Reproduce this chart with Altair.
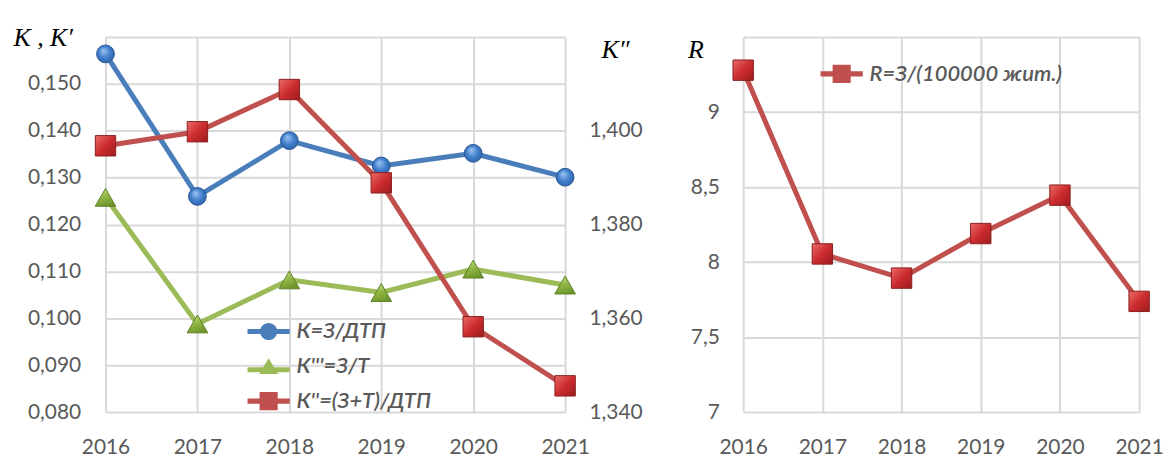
import altair as alt
import pandas as pd

# ---------------- data ----------------
years = [2016, 2017, 2018, 2019, 2020, 2021]
k_vals = [0.1564, 0.1260, 0.1379, 0.1325, 0.1352, 0.1301]      # К=З/ДТП (left axis)
k3_vals = [0.1258, 0.0988, 0.1082, 0.1055, 0.1105, 0.1071]     # К'''=З/Т (left axis)
k2_vals = [1.3968, 1.3998, 1.4088, 1.3889, 1.3582, 1.3456]     # К''=(З+Т)/ДТП (right axis)
r_vals = [9.279, 8.054, 7.893, 8.190, 8.446, 7.738]            # R=З/(100000 жит.)

left_names = ["К=З/ДТП", "К'''=З/Т", "К''=(З+Т)/ДТП"]
right_names = ["R=З/(100000 жит.)"]

left_ticks = [0.08, 0.09, 0.10, 0.11, 0.12, 0.13, 0.14, 0.15, 0.16]
k2_ticks = [1.34, 1.36, 1.38, 1.40]
r_ticks = [7, 7.5, 8, 8.5, 9, 9.5]

# ---------------- styling ----------------
BLUE_LINE, BLUE_EDGE = "#4A7EBB", "#2B5A94"
GREEN_LINE, GREEN_EDGE = "#9BBB59", "#5F7F28"
RED_LINE, RED_EDGE = "#C0504D", "#8A1F1F"
LABEL_COLOR = "#595959"
GRID_COLOR = "#D9D9D9"
FONT = "Lato"
TITLE_FONT = "Liberation Serif"

BLUE_FILL = {"gradient": "radial", "x1": 0.38, "y1": 0.3, "r1": 0.0, "x2": 0.5, "y2": 0.5, "r2": 0.62,
             "stops": [{"offset": 0, "color": "#9CC4F2"}, {"offset": 0.55, "color": "#3F7DCB"},
                       {"offset": 1, "color": "#2A5C9E"}]}
GREEN_FILL = {"gradient": "linear", "x1": 0.3, "y1": 0.0, "x2": 0.7, "y2": 1.0,
              "stops": [{"offset": 0, "color": "#BCD97A"}, {"offset": 0.5, "color": "#8DB442"},
                        {"offset": 1, "color": "#6A9128"}]}
RED_FILL = {"gradient": "linear", "x1": 0.0, "y1": 0.0, "x2": 1.0, "y2": 1.0,
            "stops": [{"offset": 0, "color": "#EC6C69"}, {"offset": 0.5, "color": "#CC2C2F"},
                      {"offset": 1, "color": "#9C1C1E"}]}

# legend symbols: line + marker (custom paths, unit box -1..1)
P_CIRCLE = "M-2.45,-0.3H2.45V0.3H-2.45Z M1,0A1,1 0 1,1 -1,0A1,1 0 1,1 1,0Z"
P_TRI = "M-2.45,0.1H2.45V0.7H-2.45Z M0,-0.95L1.1,0.9L-1.1,0.9Z"
P_SQ = "M-2.45,-0.3H2.45V0.3H-2.45Z M-1.05,-1.05H1.05V1.05H-1.05Z"

df_left = pd.DataFrame({"year": years, "k": k_vals, "k3": k3_vals, "k2": k2_vals})
df_right = pd.DataFrame({"year": years, "r": r_vals})

W_L, W_R, H = 462, 398, 377


def x_enc():
    return alt.X(
        "year:Q",
        scale=alt.Scale(domain=[2016, 2021], nice=False, zero=False),
        axis=alt.Axis(values=years, format="d", labelFlush=False, grid=True,
                      labelPadding=25, labelBaseline="top"),
        title=None,
    )


left_axis = alt.Axis(
    values=left_ticks,
    labelExpr="datum.value > 0.1595 ? '' : replace(format(datum.value, '.3f'), '.', ',')",
    grid=True, labelPadding=25,
    title="K , K′", titleAngle=0, titleX=-93, titleY=9, titleAlign="left",
    titleBaseline="alphabetic", titleFont=TITLE_FONT, titleFontStyle="italic",
    titleFontSize=26, titleFontWeight="normal", titleColor="black",
)


def y_left(field):
    return alt.Y(f"{field}:Q", scale=alt.Scale(domain=[0.08, 0.16], nice=False, zero=False),
                 axis=left_axis)


y_k2 = alt.Y(
    "k2:Q", scale=alt.Scale(domain=[1.34, 1.42], nice=False, zero=False),
    axis=alt.Axis(
        orient="right", values=k2_ticks, grid=False, labelPadding=24,
        labelExpr="replace(format(datum.value, '.3f'), '.', ',')",
        title="K″", titleAngle=0, titleX=36, titleY=21, titleAlign="left",
        titleBaseline="alphabetic", titleFont=TITLE_FONT, titleFontStyle="italic",
        titleFontSize=26, titleFontWeight="normal", titleColor="black",
    ),
)

base_l = alt.Chart(df_left)

blue_line = base_l.mark_line(color=BLUE_LINE, strokeWidth=5).encode(x=x_enc(), y=y_left("k"))
blue_pts = base_l.mark_point(shape="circle", filled=True, fill=BLUE_FILL, stroke=BLUE_EDGE,
                             strokeWidth=1, size=320, opacity=1).encode(x=x_enc(), y=y_left("k"))
green_line = base_l.mark_line(color=GREEN_LINE, strokeWidth=5).encode(x=x_enc(), y=y_left("k3"))
green_pts = base_l.mark_point(shape="triangle-up", filled=True, fill=GREEN_FILL, stroke=GREEN_EDGE,
                              strokeWidth=1, size=430, opacity=1).encode(x=x_enc(), y=y_left("k3"))
red_line = base_l.mark_line(color=RED_LINE, strokeWidth=5).encode(x=x_enc(), y=y_k2)
red_pts = base_l.mark_point(shape="square", filled=True, fill=RED_FILL, stroke=RED_EDGE,
                            strokeWidth=1, size=420, opacity=1).encode(x=x_enc(), y=y_k2)


def legend_def(x, y):
    return alt.Legend(
        orient="none", legendX=x, legendY=y, title=None,
        labelFont=FONT, labelFontStyle="italic", labelFontWeight=600, labelFontSize=22,
        labelColor=LABEL_COLOR, labelLimit=0,
        labelOffset=17, rowPadding=13, symbolSize=300, symbolStrokeWidth=0, padding=0,
    )


leg_l = alt.Chart(pd.DataFrame({"series": left_names})).mark_point(
    filled=True, opacity=1, clip=True, size=300
).encode(
    x=alt.value(-80), y=alt.value(-80),
    color=alt.Color("series:N", scale=alt.Scale(domain=left_names, range=[BLUE_LINE, GREEN_LINE, RED_LINE]),
                    legend=legend_def(153, 285)),
    shape=alt.Shape("series:N", scale=alt.Scale(domain=left_names, range=[P_CIRCLE, P_TRI, P_SQ]),
                    legend=legend_def(153, 285)),
)

left = alt.layer(
    alt.layer(blue_line, blue_pts, green_line, green_pts),
    alt.layer(red_line, red_pts),
    leg_l,
).resolve_scale(y="independent").properties(width=W_L, height=H)

# ---------------- right panel ----------------
y_r = alt.Y(
    "r:Q", scale=alt.Scale(domain=[7, 9.5], nice=False, zero=False),
    axis=alt.Axis(
        values=r_ticks, grid=True, labelPadding=24,
        labelExpr="datum.value > 9.4 ? '' : replace(toString(datum.value), '.', ',')",
        title="R", titleAngle=0, titleX=-56, titleY=21, titleAlign="left",
        titleBaseline="alphabetic", titleFont=TITLE_FONT, titleFontStyle="italic",
        titleFontSize=26, titleFontWeight="normal", titleColor="black",
    ),
)
base_r = alt.Chart(df_right)
r_line = base_r.mark_line(color=RED_LINE, strokeWidth=5).encode(x=x_enc(), y=y_r)
r_pts = base_r.mark_point(shape="square", filled=True, fill=RED_FILL, stroke=RED_EDGE,
                          strokeWidth=1, size=420, opacity=1).encode(x=x_enc(), y=y_r)
leg_r = alt.Chart(pd.DataFrame({"series": right_names})).mark_point(
    filled=True, opacity=1, clip=True, size=300
).encode(
    x=alt.value(-80), y=alt.value(-80),
    color=alt.Color("series:N", scale=alt.Scale(domain=right_names, range=[RED_LINE]),
                    legend=legend_def(88, 26)),
    shape=alt.Shape("series:N", scale=alt.Scale(domain=right_names, range=[P_SQ]),
                    legend=legend_def(88, 26)),
)
right = alt.layer(r_line, r_pts, leg_r).properties(width=W_R, height=H)

chart = alt.hconcat(left, right, spacing=179, bounds="flush").resolve_scale(
    color="independent", shape="independent"
).resolve_legend(
    color="independent", shape="independent"
).properties(
    padding={"left": 5, "top": 16, "right": 0, "bottom": 2}
).configure_view(stroke=None).configure_axis(
    labelFont=FONT, labelFontSize=21, labelColor=LABEL_COLOR,
    gridColor=GRID_COLOR, gridWidth=2, domain=False, ticks=False,
)

chart.save("out.html", embed_options={"renderer": "svg", "actions": False})
